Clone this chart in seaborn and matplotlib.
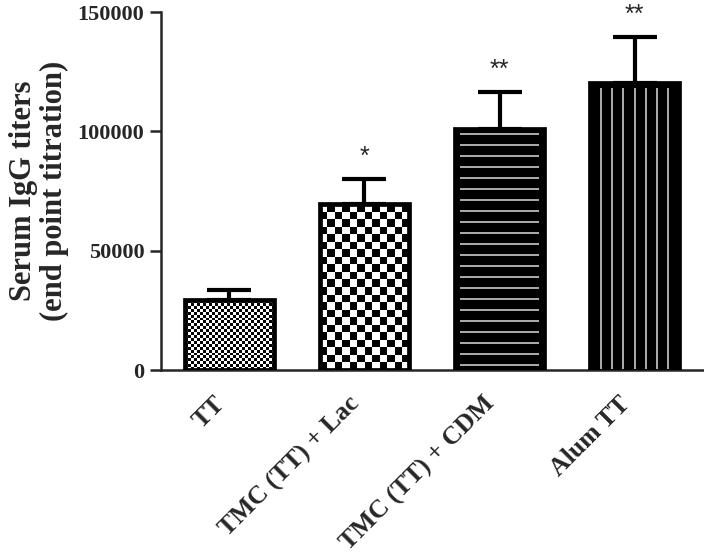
import numpy as np
import pandas as pd
import matplotlib
matplotlib.use("Agg")
import matplotlib.pyplot as plt
import matplotlib.transforms as mtransforms
import seaborn as sns

categories = ["TT", "TMC (TT) + Lac", "TMC (TT) + CDM", "Alum TT"]
means = [29300, 69500, 101000, 120300]
sem = [4200, 10500, 15500, 19200]
stars = ["", "*", "**", "**"]
yticks = [0, 50000, 100000, 150000]

sns.set_theme(style="ticks")
plt.rcParams["font.family"] = ["Liberation Serif", "DejaVu Serif"]

fig = plt.figure(figsize=(7.04, 5.57), dpi=100)
ax = fig.add_axes([161 / 704, (557 - 370) / 557, (703 - 161) / 704, (370 - 12) / 557])

df = pd.DataFrame({"group": categories, "titer": means})
sns.barplot(data=df, x="group", y="titer", ax=ax, color="white", edgecolor="black",
            linewidth=3.4, width=0.66, errorbar=None)

ax.set_xlim(-0.507, 3.507)
ax.set_ylim(0, 150000)

patches = ax.patches[:len(categories)]
centers = [p.get_x() + p.get_width() / 2 for p in patches]

ax.errorbar(centers, means, yerr=[np.zeros(len(sem)), sem], fmt="none", ecolor="black",
            elinewidth=3, capsize=16, capthick=3, zorder=2)

# textures inside bars
for i, p in enumerate(patches):
    x0, w, h = p.get_x(), p.get_width(), p.get_height()
    px_w = ax.transData.transform((x0 + w, 0))[0] - ax.transData.transform((x0, 0))[0]
    px_h = ax.transData.transform((0, h))[1] - ax.transData.transform((0, 0))[1]
    if i in (0, 1):
        ncol = 30 if i == 0 else 12
        nrow = max(1, int(round(px_h / (px_w / ncol))))
        yy, xx = np.indices((nrow, ncol))
        img = ((xx + yy) % 2).astype(float)
        ax.imshow(img, cmap="gray", vmin=0, vmax=1, extent=(x0, x0 + w, 0, h),
                  aspect="auto", interpolation="nearest", zorder=2.5, origin="lower")
        p.set_facecolor((1, 1, 1, 0))
    elif i == 2:
        p.set_facecolor("black")
        n = int(px_h // 10.7)
        ys = h * (np.arange(n) + 0.5) / n
        ax.hlines(ys, x0 + w * 0.06, x0 + w * 0.94, colors="#dcdcdc", lw=1.1, zorder=5)
    else:
        p.set_facecolor("black")
        n = 7
        xs = x0 + w * (np.arange(n) + 1) / (n + 1)
        inset = h * 5 / px_h
        ax.vlines(xs, inset * 0.3, h - inset, colors="#dcdcdc", lw=1.1, zorder=5)
    p.set_zorder(4)

for c, m, s, st in zip(centers, means, sem, stars):
    if st:
        ax.annotate(st, (c, m + s), xytext=(0, 11), textcoords="offset points",
                    ha="center", va="baseline", fontsize=18, family="Liberation Sans",
                    annotation_clip=False)

ax.set_yticks(yticks)
ax.set_yticklabels([str(v) for v in yticks], fontsize=16, fontweight="bold")
ax.set_xticks(range(len(categories)))
ax.set_xticklabels(categories, rotation=45, ha="right", va="top", fontsize=18.5,
                   fontweight="bold")
shift = mtransforms.ScaledTranslation(3 / 100, 0, fig.dpi_scale_trans)
for lab in ax.get_xticklabels():
    lab.set_transform(lab.get_transform() + shift)
ax.tick_params(axis="x", length=0, pad=16)
ax.tick_params(axis="y", length=8, width=1.8, pad=4)
ax.set_xlabel("")
ax.set_ylabel("Serum IgG titers\n(end point titration)", fontsize=22, fontweight="bold",
              labelpad=6, linespacing=1.1)
sns.despine(ax=ax)
for sp in ("left", "bottom"):
    ax.spines[sp].set_linewidth(1.8)

fig.savefig("out.png", dpi=100)
